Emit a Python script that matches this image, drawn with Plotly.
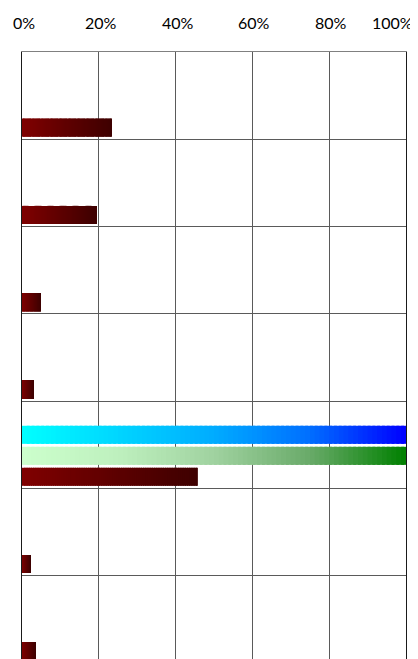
import plotly.graph_objects as go

# ---- data ----
categories = ["A", "B", "C", "D", "E", "F", "G"]
red_values = [23.4, 19.3, 4.9, 3.1, 45.8, 2.3, 3.6]
cyan_values = [0, 0, 0, 0, 100, 0, 0]
green_values = [0, 0, 0, 0, 100, 0, 0]
tick_values = [0, 20, 40, 60, 80, 100]
tick_labels = ["0%", "20%", "40%", "60%", "80%", "100%"]

# gradient colour stops (position, rgb)
red_stops = [(0, (128, 0, 0)), (1, (62, 0, 0))]
cyan_stops = [(0, (0, 255, 255)), (0.5, (0, 172, 255)), (0.75, (0, 110, 255)), (1, (0, 0, 255))]
green_stops = [(0, (204, 255, 204)), (0.25, (190, 240, 190)), (0.5, (160, 210, 160)),
               (0.75, (105, 170, 105)), (1, (0, 128, 0))]

N = 80  # gradient segments per bar


def color_at(stops, t):
    for (p0, c0), (p1, c1) in zip(stops[:-1], stops[1:]):
        if t <= p1:
            u = (t - p0) / (p1 - p0)
            return "rgb(%d,%d,%d)" % tuple(round(a + (b - a) * u) for a, b in zip(c0, c1))
    return "rgb(%d,%d,%d)" % stops[-1][1]


def gradient_trace(values, stops, offset, width):
    ys, xs, bases, colors = [], [], [], []
    for i, v in enumerate(values):
        if v <= 0:
            continue
        seg = v / N
        for k in range(N):
            ys.append(i)
            bases.append(k * seg)
            xs.append(seg * 1.6 if k < N - 1 else seg)
            colors.append(color_at(stops, (k + 0.5) / N))
    return go.Bar(
        y=ys, x=xs, base=bases, orientation="h",
        offset=offset, width=width,
        marker=dict(color=colors, line=dict(width=0)),
        hoverinfo="skip", showlegend=False,
    )


fig = go.Figure()
fig.add_trace(gradient_trace(cyan_values, cyan_stops, -0.218, 0.207))
fig.add_trace(gradient_trace(green_values, green_stops, 0.023, 0.207))
fig.add_trace(gradient_trace(red_values, red_stops, 0.263, 0.207))

for v, t in zip(tick_values, tick_labels):
    last = v == tick_values[-1]
    fig.add_annotation(
        x=v, xref="x", y=1, yref="paper", yshift=30,
        text=t, showarrow=False,
        xanchor="right" if last else "center",
        xshift=9 if last else 2,
        yanchor="middle",
        font=dict(family="Lato, Open Sans, sans-serif", size=16, color="#000000"),
    )

fig.update_layout(
    width=410, height=651,
    margin=dict(l=14, r=12, t=44, b=0),
    paper_bgcolor="white", plot_bgcolor="white",
    barmode="overlay",
    xaxis=dict(
        range=[0, 100], tickvals=tick_values, showticklabels=False,
        showgrid=True, gridcolor="#5a5a5a", gridwidth=1, zeroline=False,
        side="top", showline=True, linecolor="#808080", ticks="",
    ),
    yaxis=dict(
        range=[len(categories) - 0.5 - 0.046, -0.5],
        tickvals=[i - 0.5 for i in range(len(categories) + 1)],
        showticklabels=False, showgrid=True, gridcolor="#5a5a5a", gridwidth=1,
        zeroline=False, showline=True, linecolor="#1a1a1a", mirror=True, ticks="",
    ),
)

fig.write_html("out.html")
